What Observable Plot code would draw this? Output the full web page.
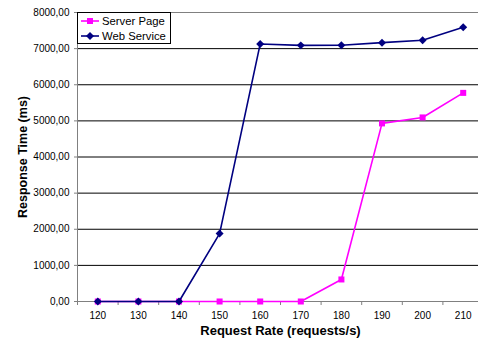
<!DOCTYPE html>
<html>
<head>
<meta charset="utf-8">
<script src="https://cdn.jsdelivr.net/npm/d3@7"></script>
<script src="https://cdn.jsdelivr.net/npm/@observablehq/plot@0.6"></script>
<style>
  html, body { margin: 0; padding: 0; background: #fff; overflow: hidden; }
  #wrap { position: relative; width: 478px; height: 341px; overflow: hidden; font-family: "Liberation Sans", Arial, sans-serif; }
  #wrap > svg { display: block; }
  #legend { position: absolute; left: 77px; top: 12px; width: 92px; height: 30px; border: 1px solid #000; background: #fff; box-sizing: content-box; }
  #legend .row { display: flex; align-items: center; height: 15px; font-size: 11.3px; color: #000; padding-left: 2px; }
  #legend svg { margin-right: 2px; }
</style>
</head>
<body>
<div id="wrap"><div id="legend"></div></div>
<script>
// Request rates (requests/s)
const rates = [120, 130, 140, 150, 160, 170, 180, 190, 200, 210];
// Mean response times (ms)
const serverPage = [0, 0, 0, 0, 0, 0, 610, 4930, 5095, 5775];
const webService = [0, 0, 0, 1880, 7130, 7090, 7095, 7165, 7230, 7590];
const yTicks = [0, 1000, 2000, 3000, 4000, 5000, 6000, 7000, 8000];

const series = [
  {name: "Server Page", values: serverPage, color: "#FF00FF", symbol: "square", r: 3.4},
  {name: "Web Service", values: webService, color: "#000080", symbol: "diamond2", r: 3.6}
];

const rows = series.flatMap(s => rates.map((x, i) => ({series: s.name, x, y: s.values[i]})));
const step = rates[1] - rates[0];
const bounds = [rates[0] - step / 2, ...rates.map(r => r + step / 2)];

const fmt = d3.formatLocale({decimal: ",", thousands: "", grouping: [3]}).format(".2f");

const marks = [
  Plot.ruleY(yTicks.filter(v => v > 0 && v < 8000), {stroke: "#000", strokeWidth: 1}),
  Plot.frame({stroke: "#808080", strokeWidth: 1}),
  Plot.axisY({ticks: yTicks, tickFormat: fmt, tickSize: 3, tickPadding: 5, fontSize: 10, label: null, stroke: "#808080", color: "#000"}),
  Plot.axisX({ticks: rates, tickSize: 0, tickPadding: 10, fontSize: 10, label: null}),
  Plot.axisX({ticks: bounds, tickSize: 4, tickFormat: () => "", label: null, stroke: "#808080"}),
  Plot.text(["Response Time (ms)"], {frameAnchor: "left", rotate: -90, dx: -55, textAnchor: "middle", fontWeight: "bold", fontSize: 12.5}),
  Plot.text(["Request Rate (requests/s)"], {frameAnchor: "bottom", dy: 33, textAnchor: "middle", fontWeight: "bold", fontSize: 13})
];

for (const s of series) {
  const data = rows.filter(d => d.series === s.name);
  marks.push(Plot.line(data, {x: "x", y: "y", stroke: s.color, strokeWidth: 1.6}));
  marks.push(Plot.dot(data, {x: "x", y: "y", fill: s.color, stroke: "none", symbol: s.symbol, r: s.r}));
}

const chart = Plot.plot({
  width: 483,
  height: 341,
  marginLeft: 77,
  marginRight: 0,
  marginTop: 12,
  marginBottom: 40,
  style: {fontFamily: "'Liberation Sans', Arial, sans-serif", background: "#fff", overflow: "visible", maxWidth: "none"},
  x: {type: "linear", domain: [bounds[0], bounds[bounds.length - 1]], axis: null},
  y: {domain: [0, 8000], axis: null},
  marks
});
chart.style.maxWidth = "none";
chart.style.width = "483px";
chart.style.height = "341px";
document.getElementById("wrap").prepend(chart);

// Legend
const legend = document.getElementById("legend");
for (const s of series) {
  const row = document.createElement("div");
  row.className = "row";
  const sw = d3.create("svg").attr("width", 20).attr("height", 10);
  sw.append("line").attr("x1", 1).attr("x2", 19).attr("y1", 5).attr("y2", 5).attr("stroke", s.color).attr("stroke-width", 1.6);
  const sym = s.symbol === "square" ? d3.symbolSquare : d3.symbolDiamond2;
  sw.append("path").attr("transform", "translate(10,5)").attr("fill", s.color)
    .attr("d", d3.symbol(sym, s.r * s.r * Math.PI)());
  row.appendChild(sw.node());
  const label = document.createElement("span");
  label.textContent = s.name;
  row.appendChild(label);
  legend.appendChild(row);
}
</script>
</body>
</html>
